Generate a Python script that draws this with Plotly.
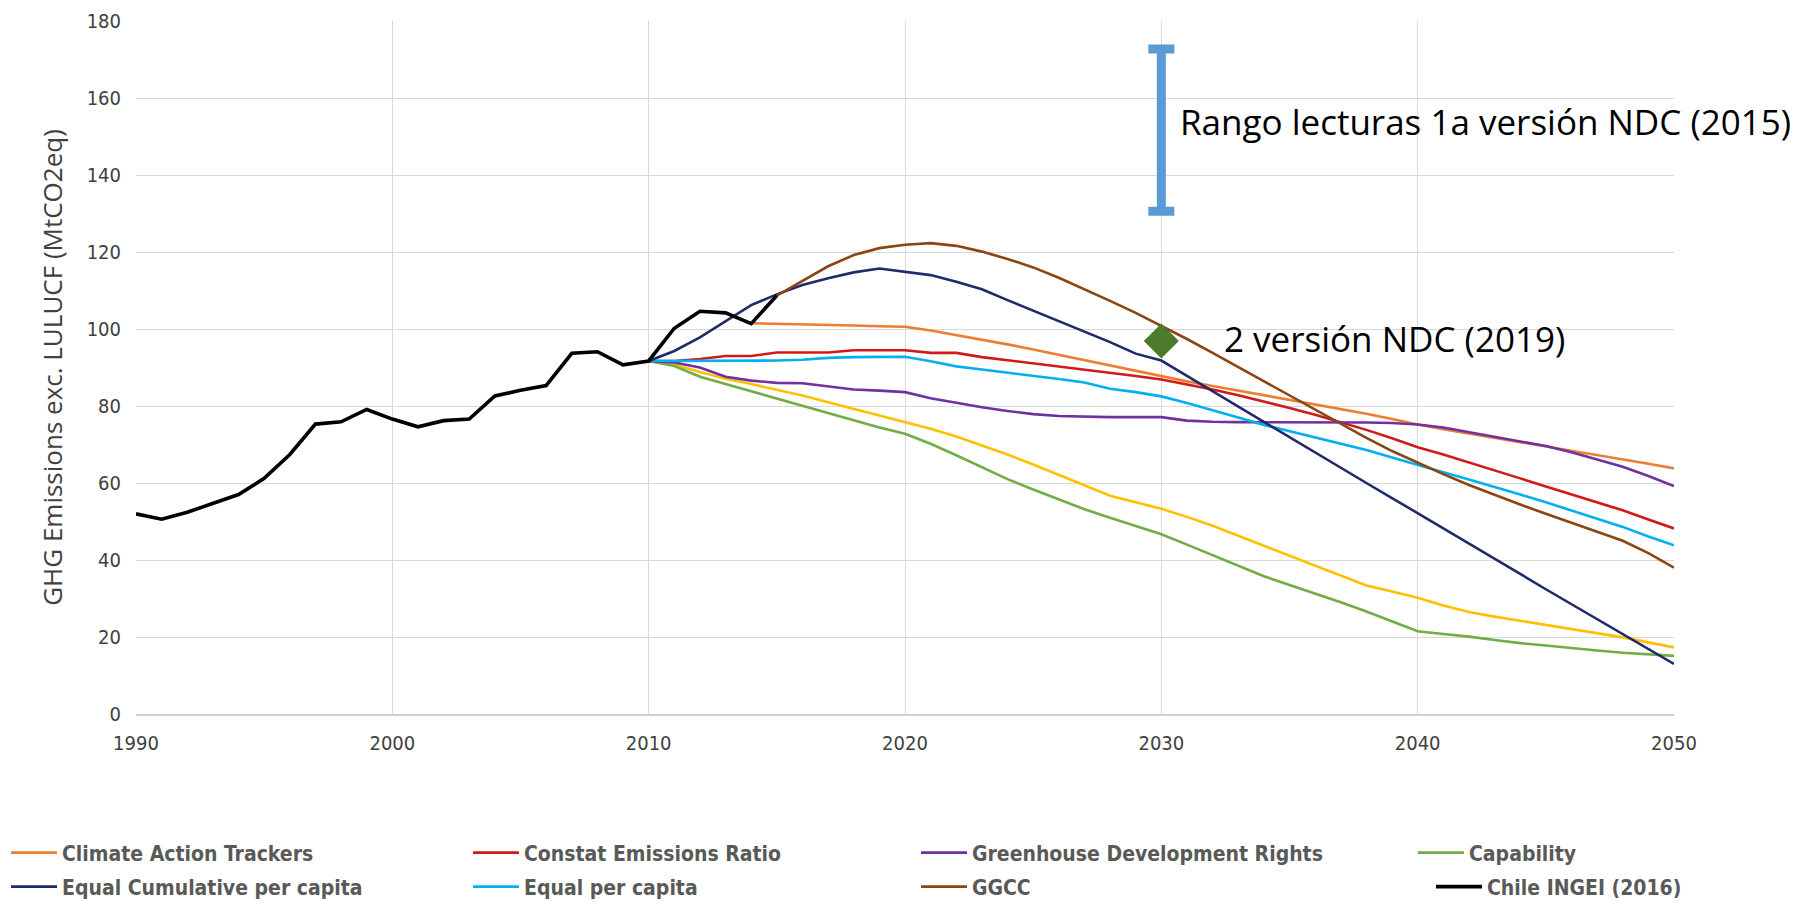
import plotly.graph_objects as go

# ---------------- data ----------------
hist_years = list(range(1990, 2016))
chile_ingei = [52.0, 50.6, 52.4, 54.6, 57.0, 61.2, 67.4, 75.3, 75.9, 79.1,
               76.6, 74.6, 76.2, 76.6, 82.6, 84.1, 85.3, 93.7, 94.1, 90.7,
               91.7, 100.2, 104.6, 104.2, 101.4, 108.7]

proj_years = list(range(2010, 2051))

climate_action_trackers = [None, None, None, None,
    101.5, 101.4, 101.2, 101.1, 100.9, 100.7, 100.6, 99.6, 98.4, 97.3, 96.0,
    94.7, 93.3, 91.9, 90.6, 89.2, 87.8, 86.4, 85.2, 84.0, 82.8, 81.6, 80.4,
    79.2, 78.0, 76.6, 75.2, 74.0, 72.9, 71.8, 70.7, 69.6, 68.5, 67.4, 66.3,
    65.0, 63.8]

constat_emissions_ratio = [
    91.7, 91.7, 92.2, 93.0, 93.0, 93.9, 93.9, 93.9, 94.5, 94.5, 94.5, 93.8,
    93.8, 92.7, 91.9, 91.0, 90.2, 89.5, 88.7, 87.8, 86.9, 85.7, 84.3, 82.8,
    81.2, 79.5, 77.7, 75.8, 73.8, 71.6, 69.3, 67.4, 65.4, 63.3, 61.2, 59.1,
    57.0, 55.0, 52.9, 50.5, 48.2]

greenhouse_dev_rights = [
    91.7, 91.3, 90.0, 87.6, 86.6, 86.0, 85.9, 85.1, 84.3, 84.0, 83.6, 82.0,
    80.8, 79.7, 78.7, 77.9, 77.4, 77.2, 77.1, 77.1, 77.1, 76.2, 75.9, 75.8,
    75.8, 75.8, 75.8, 75.8, 75.7, 75.6, 75.2, 74.4, 73.2, 72.0, 70.9, 69.6,
    68.0, 66.2, 64.2, 61.8, 59.2]

capability = [
    91.7, 90.4, 87.6, 85.7, 84.0, 82.0, 80.1, 78.1, 76.2, 74.4, 72.8, 70.2,
    67.2, 64.0, 61.0, 58.3, 55.7, 53.2, 51.0, 48.9, 46.7, 44.0, 41.3, 38.5,
    35.8, 33.5, 31.3, 29.0, 26.6, 24.0, 21.5, 20.8, 20.1, 19.2, 18.4, 17.8,
    17.1, 16.5, 15.9, 15.5, 15.1]

equal_cumulative_pc = [
    91.7, 94.3, 97.8, 102.1, 106.2, 109.0, 111.4, 113.2, 114.7, 115.7, 114.9,
    114.0, 112.3, 110.3, 107.5, 104.8, 102.1, 99.4, 96.6, 93.6, 91.8, 87.8,
    83.8, 79.8, 75.8, 71.8, 67.8, 63.9, 60.0, 56.1, 52.2, 48.3, 44.4, 40.4,
    36.4, 32.4, 28.5, 24.6, 20.7, 16.8, 13.0]

equal_per_capita = [
    91.7, 91.7, 91.7, 91.7, 91.8, 91.8, 92.0, 92.5, 92.7, 92.8, 92.8, 91.6,
    90.3, 89.5, 88.7, 87.8, 87.0, 86.1, 84.5, 83.6, 82.5, 80.8, 79.0, 77.0,
    75.1, 73.5, 71.9, 70.3, 68.6, 66.6, 64.6, 62.8, 60.9, 59.0, 57.0, 55.0,
    52.9, 50.8, 48.6, 46.1, 43.8]

ggcc = [None, None, None, None, None,
    108.7, 112.5, 116.3, 119.2, 121.0, 121.9, 122.3, 121.6, 120.1, 118.2,
    116.0, 113.3, 110.4, 107.3, 104.2, 100.9, 97.4, 93.8, 90.1, 86.4, 82.7,
    79.0, 75.3, 71.7, 68.3, 65.2, 62.3, 59.5, 56.9, 54.4, 52.0, 49.7, 47.4,
    45.0, 41.8, 38.0]

unnamed_yellow = [
    91.7, 90.8, 88.8, 87.1, 85.7, 84.3, 82.7, 81.0, 79.3, 77.6, 76.0, 74.1,
    72.1, 69.8, 67.4, 64.8, 62.2, 59.4, 56.7, 54.9, 53.3, 51.2, 48.9, 46.3,
    43.7, 41.2, 38.6, 35.9, 33.4, 31.8, 30.2, 28.2, 26.5, 25.3, 24.2, 23.1,
    22.0, 21.0, 19.9, 18.6, 17.3]

ndc2015_year = [2030]
ndc2015_low = [130.6]
ndc2015_high = [172.7]
ndc2019_year = [2030]
ndc2019_value = [96.9]

x_ticks = [1990, 2000, 2010, 2020, 2030, 2040, 2050]
y_ticks = [0, 20, 40, 60, 80, 100, 120, 140, 160, 180]

# ---------------- figure ----------------
OFF = 8                      # page body margin
W, H = 1812 - OFF, 923 - OFF
ML, MR, MT, MB = 136 - OFF, 138, 21 - OFF, 209
PW = W - ML - MR
PH = H - MT - MB

NARROW = "Liberation Sans Narrow, DejaVu Sans Condensed, Arial Narrow, sans-serif"
TEXT = "Open Sans, Noto Sans, sans-serif"

fig = go.Figure()

# (name, values, color, legend id, legend pos in window px (line start x, center y))
series = [
    ("Capability", capability, "#70AD47", "legend4", (1421, 853)),
    ("Climate Action Trackers", climate_action_trackers, "#ED7D31", "legend", (14, 853)),
    ("Constat Emissions Ratio", constat_emissions_ratio, "#D01A1A", "legend2", (476, 853)),
    ("Greenhouse Development Rights", greenhouse_dev_rights, "#7030A0", "legend3", (924, 853)),
    ("Equal per capita", equal_per_capita, "#00B0F0", "legend6", (476, 887)),
    ("Equal Cumulative per capita", equal_cumulative_pc, "#1F2A6B", "legend5", (14, 887)),
    ("GGCC", ggcc, "#8B4513", "legend7", (924, 887)),
]

fig.add_trace(go.Scatter(x=proj_years, y=unnamed_yellow, mode="lines",
                         line=dict(color="#FFC000", width=2.6),
                         showlegend=False, hoverinfo="skip"))

legend_layouts = {}
for name, vals, color, lg, (px, py) in series:
    fig.add_trace(go.Scatter(x=proj_years, y=vals, mode="lines", name=name,
                             line=dict(color=color, width=2.6), legend=lg))
    legend_layouts[lg] = (px, py)

fig.add_trace(go.Scatter(x=hist_years, y=chile_ingei, mode="lines",
                         name="Chile INGEI (2016)",
                         line=dict(color="#000000", width=3.6), legend="legend8"))
legend_layouts["legend8"] = (1439, 887)

# NDC 2015 range (error bar)
mid = [(a + b) / 2 for a, b in zip(ndc2015_low, ndc2015_high)]
half = [(b - a) / 2 for a, b in zip(ndc2015_low, ndc2015_high)]
fig.add_trace(go.Scatter(x=ndc2015_year, y=mid, mode="markers",
                         marker=dict(size=1, color="rgba(0,0,0,0)"),
                         error_y=dict(type="data", array=half, symmetric=True,
                                      color="#5B9BD5", thickness=9, width=13),
                         showlegend=False, hoverinfo="skip"))

# NDC 2019 point
fig.add_trace(go.Scatter(x=ndc2019_year, y=ndc2019_value, mode="markers",
                         marker=dict(symbol="diamond", size=27, color="#4E7A2C"),
                         showlegend=False))

fig.add_annotation(x=2030.65, y=154, xref="x", yref="y", showarrow=False,
                   text="Rango lecturas 1a versión NDC (2015)",
                   xanchor="left", yanchor="middle",
                   font=dict(family=TEXT, size=35, color="#000000"))
fig.add_annotation(x=2032.35, y=97.5, xref="x", yref="y", showarrow=False,
                   text="2 versión NDC (2019)",
                   xanchor="left", yanchor="middle",
                   font=dict(family=TEXT, size=35, color="#000000"))

layout_legends = {}
for lg, (px, py) in legend_layouts.items():
    fx = px - OFF - 8        # legend box left in figure px (item line starts ~8px in)
    fy = py - OFF
    layout_legends[lg] = dict(
        x=(fx - ML) / PW, y=(H - MB - fy) / PH,
        xanchor="left", yanchor="middle",
        bgcolor="rgba(0,0,0,0)", borderwidth=0,
        font=dict(family=NARROW, size=21, color="#595959", weight="bold"),
        itemwidth=46, tracegroupgap=0,
    )

fig.update_layout(
    width=W, height=H,
    margin=dict(l=ML, r=MR, t=MT, b=MB, autoexpand=False),
    paper_bgcolor="white", plot_bgcolor="white",
    showlegend=True,
    **layout_legends,
)

fig.update_xaxes(range=[1990, 2050], tickmode="array", tickvals=x_ticks,
                 showgrid=True, gridcolor="#D9D9D9", gridwidth=1,
                 zeroline=False, showline=True, linecolor="#D0D0D0", linewidth=2,
                 ticks="", ticklabelstandoff=10,
                 tickfont=dict(family=NARROW, size=20, color="#404040"),
                 mirror=False)
fig.update_yaxes(range=[0, 180], tickmode="array", tickvals=y_ticks,
                 showgrid=True, gridcolor="#D9D9D9", gridwidth=1,
                 zeroline=False, showline=False, ticks="", ticklabelstandoff=14,
                 tickfont=dict(family=NARROW, size=20, color="#404040"),
                 title=dict(text="GHG Emissions exc. LULUCF (MtCO2eq)",
                            font=dict(family=TEXT, size=26, color="#404040"),
                            standoff=16))

fig.write_html("out.html")
